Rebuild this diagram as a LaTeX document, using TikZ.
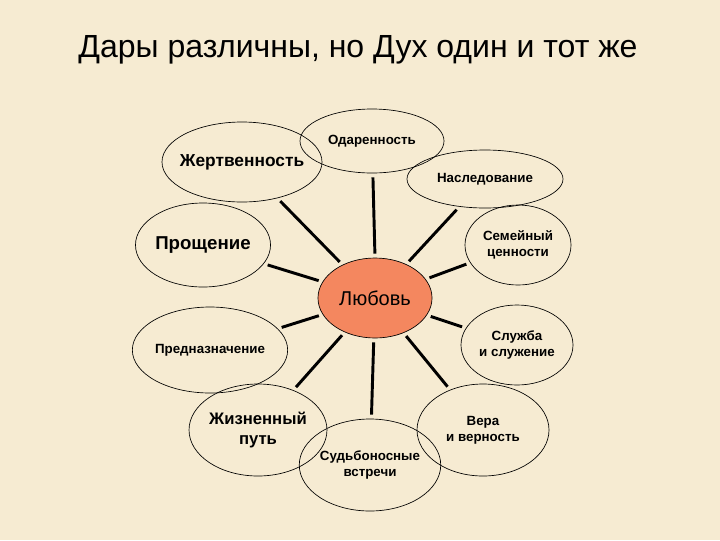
\documentclass[tikz,border=0pt]{standalone}
\usepackage{fontspec}
\setmainfont{Liberation Sans}
\usetikzlibrary{shapes.geometric}
\definecolor{bg}{HTML}{F6EBD2}
\definecolor{love}{HTML}{F4875F}
\begin{document}
\begin{tikzpicture}[x=0.75pt,y=-0.75pt,
  el/.style 2 args={draw,ellipse,line width=0.5pt,inner sep=0pt,minimum width=#1*0.75pt,minimum height=#2*0.75pt,font=\bfseries\fontsize{10}{12}\selectfont,align=center},
  spoke/.style={line width=2.2pt,shorten <=3pt,shorten >=3pt}]
\fill[bg] (0,0) rectangle (720,540);
\useasboundingbox (0,0) rectangle (720,540);
\node (title) at (358,50) {\fontsize{24}{28}\selectfont Дары различны, но Дух один и тот же};
\node[el={144}{64}] (od) at (372,141) {};
\node at (372,141) {\bfseries\fontsize{10}{12}\selectfont Одаренность};
\node[el={160}{80}] (zh) at (242,162) {};
\node at (242,162) {\bfseries\fontsize{13}{15}\selectfont Жертвенность};
\node[el={156}{58}] (na) at (485,179) {Наследование};
\node[el={126}{84}] (pr) at (203,245) {\fontsize{14}{16}\selectfont Прощение};
\node[el={106}{80}] (se) at (518,245) {Семейный\\ценности};
\node[draw,ellipse,fill=love,line width=0.5pt,minimum width=75pt,minimum height=60pt,font=\fontsize{15}{18}\selectfont] (lo) at (375,298) {Любовь};
\node[el={132}{86}] (pn) at (210,350) {Предназначение};
\node[el={112}{80}] (sl) at (517,345) {Служба\\и служение};
\node[el={132}{92},font=\bfseries\fontsize{12.5}{15}\selectfont] (zp) at (258,430) {Жизненный\\путь};
\node[el={132}{92}] (ve) at (483,430) {Вера\\и верность};
\node[el={132}{92}] (sv) at (370,465) {Судьбоносные\\встречи};
\foreach \n in {zh,na,pr,se,pn,sl,zp,ve,sv} \draw[spoke] (lo) -- (\n);
\draw[spoke] (lo.north) -- (od);
\end{tikzpicture}
\end{document}
